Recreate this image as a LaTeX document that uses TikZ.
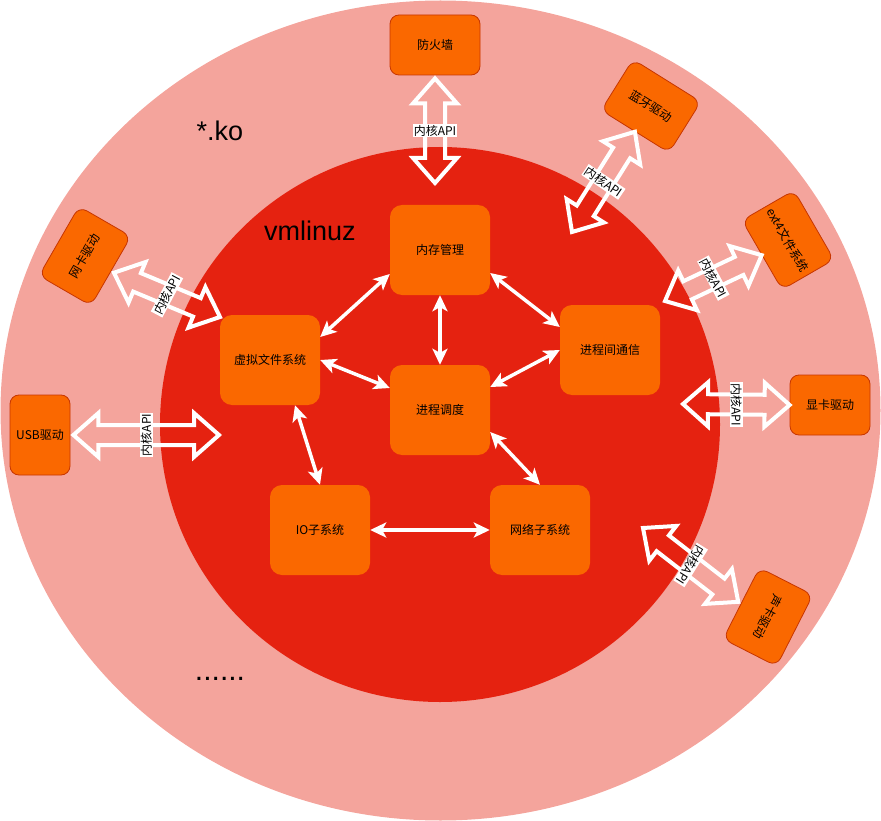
\documentclass[tikz,border=0pt]{standalone}
\usepackage{fontspec}
\setmainfont{Noto Sans CJK SC}
\newfontfamily\arialf{Liberation Sans}
\usetikzlibrary{arrows.meta,calc}
\definecolor{outerbg}{RGB}{244,164,156}
\definecolor{innerbg}{RGB}{229,34,16}
\definecolor{boxfill}{RGB}{250,104,0}
\definecolor{boxline}{RGB}{199,53,0}
\newcommand{\hollowarrow}[2]{%
  \coordinate (ha) at ($(#1)!25pt!(#2)$);
  \coordinate (hb) at ($(#2)!25pt!(#1)$);
  \draw[blockarrow] (#1) -- ($(ha)!22pt!90:(#2)$) -- ($(ha)!10pt!90:(#2)$)
    -- ($(hb)!10pt!-90:(#1)$) -- ($(hb)!22pt!-90:(#1)$) -- (#2)
    -- ($(hb)!22pt!90:(#1)$) -- ($(hb)!10pt!90:(#1)$)
    -- ($(ha)!10pt!-90:(#2)$) -- ($(ha)!22pt!-90:(#2)$) -- cycle;}
\begin{document}
\begin{tikzpicture}[x=1pt,y=1pt,
  inbox/.style={rectangle, rounded corners=12pt, fill=boxfill, draw=none,
    minimum width=100pt, minimum height=90pt, inner sep=0pt,
    font=\fontsize{12}{14}\selectfont, text=black},
  outbox/.style={rectangle, rounded corners=9pt, fill=boxfill, draw=boxline,
    line width=0.8pt, minimum width=80pt, minimum height=60pt, inner sep=0pt,
    font=\fontsize{12}{14}\selectfont, text=black},
  apilabel/.style={fill=white, inner sep=1pt, font=\fontsize{12}{12}\selectfont, text=black},
  blockarrow/.style={draw=white, line width=4pt, line join=miter, fill=none},
  inarrow/.style={draw=white, line width=3.5pt,
    {Stealth[length=16pt,width=15pt,inset=4pt]}-{Stealth[length=16pt,width=15pt,inset=4pt]}},
  bigtext/.style={font=\arialf\fontsize{27}{27}\selectfont, text=black, inner sep=0pt}
]
\useasboundingbox (0,0) rectangle (881,-821);
\fill[outerbg] (440.5,-410.5) ellipse [x radius=440, y radius=410];
\fill[innerbg] (440,-424.5) ellipse [x radius=280, y radius=277.5];

% core nodes
\node[inbox] (mem) at (440,-250) {内存管理};
\node[inbox] (vfs) at (270,-360) {虚拟文件系统};
\node[inbox] (sched) at (440,-410) {进程调度};
\node[inbox] (ipc) at (610,-350) {进程间通信};
\node[inbox] (io) at (320,-530) {IO子系统};
\node[inbox] (net) at (540,-530) {网络子系统};

% module nodes
\node[outbox, minimum width=90pt] (fw) at (435,-45) {防火墙};
\node[outbox, minimum width=60pt, minimum height=80pt] (usb) at (40,-435) {USB驱动};
\node[outbox] (gpu) at (830,-405) {显卡驱动};
\node[outbox, rotate=-32] (bt) at (651,-106) {蓝牙驱动};
\node[outbox, rotate=-60] (ext) at (788,-240) {ext4文件系统};
\node[outbox, rotate=60] (nic) at (85,-256) {网卡驱动};
\node[outbox, rotate=-117] (snd) at (768,-617) {声卡驱动};

% end points of the API arrows
\coordinate (fwT) at ($(fw.center)!1.1!(fw.south)$);
\coordinate (fwB) at (435,-183);
\coordinate (btT) at (bt.south);
\coordinate (btB) at (572,-232);
\coordinate (extT) at (ext.south);
\coordinate (extB) at (665,-301);
\coordinate (nicT) at ($(nic.center)!1.1!(nic.south)$);
\coordinate (nicB) at (220,-317);
\coordinate (usbT) at ($(usb.center)!1.1!(usb.east)$);
\coordinate (usbB) at (219,-435);
\coordinate (gpuT) at (gpu.west);
\coordinate (gpuB) at (683,-404);
\coordinate (sndT) at ($(snd.center)!1.1!(snd.south)$);
\coordinate (sndB) at (643,-528);

\hollowarrow{fwT}{fwB}
\hollowarrow{btT}{btB}
\hollowarrow{extT}{extB}
\hollowarrow{nicT}{nicB}
\hollowarrow{usbT}{usbB}
\hollowarrow{gpuT}{gpuB}
\hollowarrow{sndT}{sndB}

\node[apilabel] (l1) at ($(fwT)!0.5!(fwB)$) {内核API};
\node[apilabel, rotate=-34] (l2) at ($(btT)!0.5!(btB)$) {内核API};
\node[apilabel, rotate=-62] (l3) at ($(extT)!0.5!(extB)$) {内核API};
\node[apilabel, rotate=62] (l4) at ($(nicT)!0.5!(nicB)$) {内核API};
\node[apilabel, rotate=90] (l5) at ($(usbT)!0.5!(usbB)$) {内核API};
\node[apilabel, rotate=-90] (l6) at ($(gpuT)!0.5!(gpuB)$) {内核API};
\node[apilabel, rotate=-122] (l7) at ($(sndT)!0.5!(sndB)$) {内核API};

% internal arrows
\draw[inarrow] ([yshift=-24pt]mem.west) -- ([yshift=23pt]vfs.east);
\draw[inarrow] (mem.south) -- (sched.north);
\draw[inarrow] ([yshift=-23pt]mem.east) -- ([yshift=23pt]ipc.west);
\draw[inarrow] (ipc.west) -- ([yshift=23pt]sched.east);
\draw[inarrow] (vfs.east) -- ([yshift=22pt]sched.west);
\draw[inarrow] ([xshift=25pt]vfs.south) -- (io.north);
\draw[inarrow] ([yshift=-22pt]sched.east) -- (net.north);
\draw[inarrow] (io.east) -- (net.west);

% texts
\node[bigtext] (ko) at (220,-131) {*.ko};
\node[bigtext] (vml) at (310,-231) {vmlinuz};
\node[font=\arialf\fontsize{30}{30}\selectfont, text=black, inner sep=0pt, anchor=base] (dots) at (220,-680) {......};
\end{tikzpicture}
\end{document}
